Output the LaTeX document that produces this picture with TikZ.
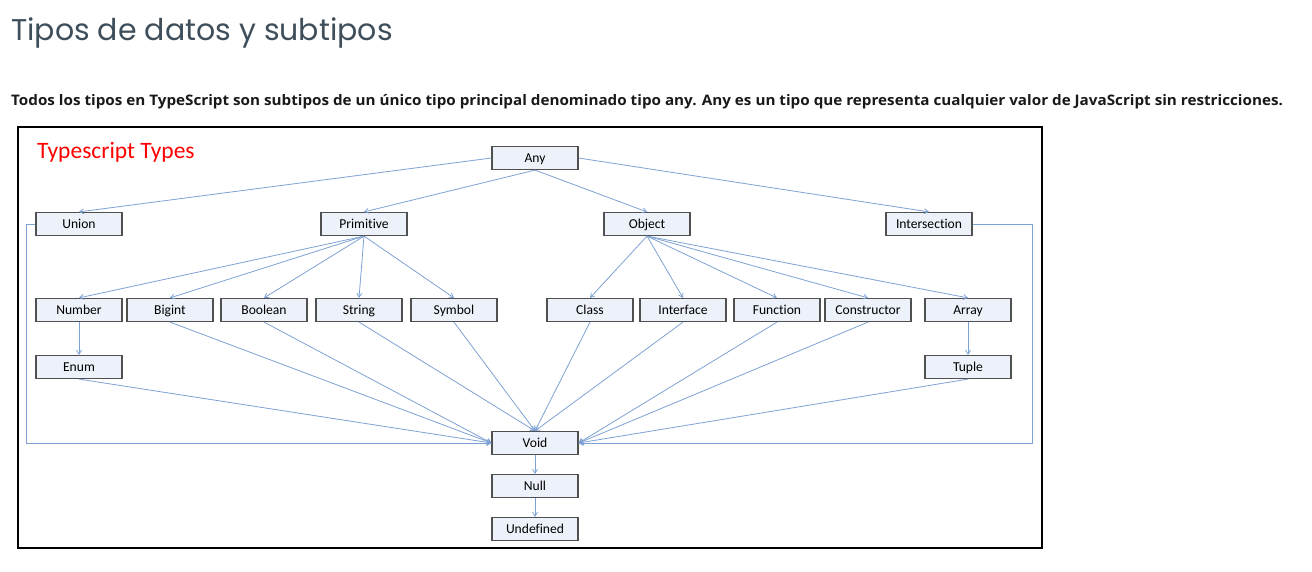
\documentclass[tikz,border=0pt]{standalone}
\usepackage{fontspec}
\usetikzlibrary{arrows.meta}
\newfontfamily\headfont{Poppins}
\newfontfamily\leadfont{Open Sans}[FakeStretch=1.05]
\newfontfamily\slidefont{Carlito}[Ligatures=NoCommon]
\definecolor{boxfill}{HTML}{EDF1F9}
\definecolor{boxline}{HTML}{505050}
\definecolor{linkblue}{HTML}{7EA2D3}
\definecolor{headgray}{HTML}{3E4E5A}
\begin{document}
\begin{tikzpicture}[x=1pt,y=-1pt,
    tbox/.style={draw=boxline, fill=boxfill, line width=1.2pt, minimum width=86pt,
      minimum height=23pt, inner sep=0pt, text height=11pt, text depth=2pt,
      font=\slidefont\fontsize{13.6}{15}\selectfont},
    link/.style={draw=linkblue, line width=0.8pt, -{Straight Barb[length=4pt,width=5pt]}}]
    \useasboundingbox (0,0) rectangle (1312,571);
      \node[anchor=base west, inner sep=0pt, text=headgray, font=\headfont\fontsize{30}{36}\selectfont] (title) at (11,40) {Tipos de datos y subtipos};
      \node[anchor=base west, inner sep=0pt, text=black!90, font=\leadfont\bfseries\fontsize{14.5}{16}\selectfont] (lead) at (11,105) {Todos los tipos en TypeScript son subtipos de un único tipo principal denominado tipo any. Any es un tipo que representa cualquier valor de JavaScript sin restricciones.};
      \draw[line width=1.8pt] (18,127) rectangle (1042,548);
      \node[anchor=base west, inner sep=0pt, text=red, font=\slidefont\fontsize{23.5}{27}\selectfont] (heading) at (37,158) {Typescript Types};
      % top rows
      \node[tbox] (any) at (535,158) {Any};
      \node[tbox] (union) at (79,224) {Union};
      \node[tbox] (primitive) at (364,224) {Primitive};
      \node[tbox] (object) at (647,224) {Object};
      \node[tbox] (intersection) at (929,224) {Intersection};
      \node[tbox] (number) at (79,310) {Number};
      \node[tbox] (bigint) at (170,310) {Bigint};
      \node[tbox] (boolean) at (264,310) {Boolean};
      \node[tbox] (string) at (359,310) {String};
      \node[tbox] (symbol) at (454,310) {Symbol};
      \node[tbox] (class) at (590,310) {Class};
      \node[tbox] (interface) at (683,310) {Interface};
      \node[tbox] (function) at (777,310) {Function};
      \node[tbox] (constructor) at (868,310) {Constructor};
      \node[tbox] (array) at (968,310) {Array};
      \node[tbox] (enum) at (79,367) {Enum};
      \node[tbox] (tuple) at (968,367) {Tuple};
      % bottom chain
      \node[tbox] (void) at (535,443) {Void};
      \node[tbox] (null) at (535,486) {Null};
      \node[tbox] (undefined) at (535,529) {Undefined};
      \draw[link] (any.west) -- (union.north);
      \draw[link] (any.south) -- (primitive.north);
      \draw[link] (any.south) -- (object.north);
      \draw[link] (any.east) -- (intersection.north);
      \foreach \n in {number,bigint,boolean,string,symbol}
        \draw[link] (primitive.south) -- (\n.north);
      \foreach \n in {class,interface,function,constructor,array}
        \draw[link] (object.south) -- (\n.north);
      \draw[link] (number.south) -- (enum.north);
      \draw[link] (array.south) -- (tuple.north);
      \foreach \n in {enum,bigint,boolean}
        \draw[link] (\n.south) -- (void.west);
      \foreach \n in {string,symbol,class,interface}
        \draw[link] (\n.south) -- (void.north);
      \foreach \n in {function,constructor,tuple}
        \draw[link] (\n.south) -- (void.east);
      \draw[link] (union.west) -- ++(-9,0) |- (void.west);
      \draw[link] (intersection.east) -- ++(60,0) |- (void.east);
      \draw[link] (void.south) -- (null.north);
      \draw[link] (null.south) -- (undefined.north);
    \end{tikzpicture}
\end{document}
